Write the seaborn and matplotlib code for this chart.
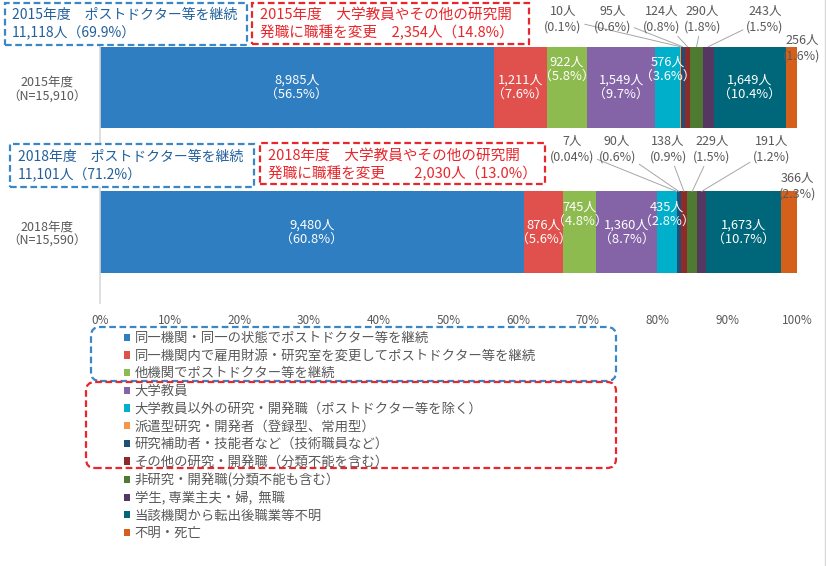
import numpy as np
import pandas as pd
import matplotlib
matplotlib.use("Agg")
import matplotlib.pyplot as plt
from matplotlib.patches import Rectangle, FancyBboxPatch, Patch
from matplotlib.lines import Line2D
import seaborn as sns

# ---------------- data ----------------
years = ["2015年度", "2018年度"]
totals = [15910, 15590]
categories = [
    "同一機関・同一の状態でポストドクター等を継続",
    "同一機関内で雇用財源・研究室を変更してポストドクター等を継続",
    "他機関でポストドクター等を継続",
    "大学教員",
    "大学教員以外の研究・開発職（ポストドクター等を除く）",
    "派遣型研究・開発者（登録型、常用型）",
    "研究補助者・技能者など（技術職員など）",
    "その他の研究・開発職（分類不能を含む）",
    "非研究・開発職(分類不能も含む）",
    "学生, 専業主夫・婦,  無職",
    "当該機関から転出後職業等不明",
    "不明・死亡",
]
counts_2015 = [8985, 1211, 922, 1549, 576, 10, 95, 124, 290, 243, 1649, 256]
counts_2018 = [9480, 876, 745, 1360, 435, 7, 90, 138, 229, 191, 1673, 366]
pct_2015 = ["56.5", "7.6", "5.8", "9.7", "3.6", "0.1", "0.6", "0.8", "1.8", "1.5", "10.4", "1.6"]
pct_2018 = ["60.8", "5.6", "4.8", "8.7", "2.8", "0.04", "0.6", "0.9", "1.5", "1.2", "10.7", "2.3"]
colors = ["#2E7EC1", "#E0504D", "#8DBB4F", "#8464A6", "#00AFC9", "#F79646",
          "#1F4E79", "#8E2A2A", "#4E7A32", "#543862", "#00677A", "#D4601C"]
xticks = [0, 10, 20, 30, 40, 50, 60, 70, 80, 90, 100]

# ---------------- style ----------------
sns.set_style("white")
plt.rcParams["font.family"] = ["Noto Sans CJK JP", "DejaVu Sans"]
GRAY = "#595959"
BLUE_T, BLUE_B = "#22609C", "#3A87C8"
RED_T, RED_B = "#E8262B", "#E8262B"

W, H = 826, 566
fig = plt.figure(figsize=(W / 100, H / 100), dpi=100)
ax_l, ax_r, ax_t, ax_b = 100, 797, 46, 303
ax = fig.add_axes([ax_l / W, 1 - ax_b / H, (ax_r - ax_l) / W, (ax_b - ax_t) / H])

ylabels = [f"{y}\n（N={n:,}）" for y, n in zip(years, totals)]
counts = np.array([counts_2015, counts_2018])
pcts = [pct_2015, pct_2018]
shares = counts / np.array(totals)[:, None] * 100
cum = np.cumsum(shares, axis=1)
starts = cum - shares
BAR_W = 0.564

for k in range(len(categories)):
    df = pd.DataFrame({"share": shares[:, k], "year": ylabels})
    sns.barplot(data=df, x="share", y="year", orient="h", order=ylabels,
                color=colors[k], saturation=1, width=BAR_W, linewidth=0,
                errorbar=None, left=starts[:, k], ax=ax)

ax.set_xlim(0, 100)
ax.set_ylim(1.489, -0.287)
ax.set_xticks(xticks)
ax.set_xticklabels([f"{t}%" for t in xticks])
ax.set_xlabel("")
ax.set_ylabel("")
ax.tick_params(axis="x", length=0, pad=8, labelsize=8.5, labelcolor=GRAY)
ax.tick_params(axis="y", length=0, pad=38, labelsize=9, labelcolor=GRAY)
for lab in ax.get_yticklabels():
    lab.set_horizontalalignment("center")
    lab.set_multialignment("center")
    lab.set_linespacing(1.12)
for s in ["top", "right", "bottom"]:
    ax.spines[s].set_visible(False)
ax.spines["left"].set_color("#D9D9D9")
ax.spines["left"].set_linewidth(1.2)

# labels inside bars
inside = [0, 1, 2, 3, 4, 10]
raised = {2, 4}
for i in range(2):
    for k in inside:
        xc = starts[i, k] + shares[i, k] / 2
        yc = i - (0.125 if k in raised else 0)
        ax.text(xc, yc, f"{counts[i, k]:,}人\n（{pcts[i][k]}%）", ha="center", va="center",
                color="white", fontsize=9.3, linespacing=1.12)

# call-out labels for small segments
small = [5, 6, 7, 8, 9]
callout_x = [[66.4, 73.5, 80.6, 86.4, 95.4], [67.7, 74.2, 81.5, 87.8, 96.4]]
callout_y = [-0.473, 0.425]
last_xy = [(100.7, -0.270), (100.1, 0.681)]
for i in range(2):
    for j, k in enumerate(small):
        xc = starts[i, k] + shares[i, k] / 2
        ax.annotate(f"{counts[i, k]:,}人\n({pcts[i][k]}%)", xy=(xc, i - BAR_W / 2),
                    xytext=(callout_x[i][j], callout_y[i]), ha="center", va="center",
                    color=GRAY, fontsize=9, linespacing=1.2, annotation_clip=False,
                    arrowprops=dict(arrowstyle="-", color="#A6A6A6", lw=0.7,
                                    shrinkA=0, shrinkB=0))
    k = 11
    ax.text(last_xy[i][0], last_xy[i][1], f"{counts[i, k]:,}人\n({pcts[i][k]}%)",
            ha="center", va="center", color=GRAY, fontsize=9, linespacing=1.2, clip_on=False)


def px_rect(x0, y0, x1, y1):
    return (x0 / 100, (H - y1) / 100), (x1 - x0) / 100, (y1 - y0) / 100


def ftext(x, y, s, **kw):
    fig.text(x / W, 1 - y / H, s, va="center", ha="left", **kw)


DASH = (0, (3, 1.6))
# summary boxes above the bars
cont = counts[:, :3].sum(axis=1)
chg = counts[:, 3:8].sum(axis=1)
boxes = [
    ((5, 3, 247, 45), (12, 15, 33), BLUE_B, BLUE_T, 10,
     f"{years[0]}　ポストドクター等を継続", f"{cont[0]:,}人（{cont[0] / totals[0] * 100:.1f}%）"),
    ((252, 3, 529, 44), (260, 15, 33), RED_B, RED_T, 10.5,
     f"{years[0]}　大学教員やその他の研究開", f"発職に職種を変更　{chg[0]:,}人（{chg[0] / totals[0] * 100:.1f}%）"),
    ((10, 144, 254, 187), (18, 157, 175), BLUE_B, BLUE_T, 10,
     f"{years[1]}　ポストドクター等を継続", f"{cont[1]:,}人（{cont[1] / totals[1] * 100:.1f}%）"),
    ((260, 143, 545, 184), (268, 156, 174), RED_B, RED_T, 10.5,
     f"{years[1]}　大学教員やその他の研究開", f"発職に職種を変更　　{chg[1]:,}人（{chg[1] / totals[1] * 100:.1f}%）"),
]
for rect, (tx, ty1, ty2), ec, tc, fs, l1, l2 in boxes:
    xy, w, h = px_rect(*rect)
    fig.add_artist(Rectangle(xy, w, h, transform=fig.dpi_scale_trans, fill=True, fc="white",
                             ec=ec, lw=1.6, ls=DASH))
    ftext(tx, ty1, l1, color=tc, fontsize=fs)
    ftext(tx, ty2, l2, color=tc, fontsize=fs)

# legend
handles = [Patch(facecolor=c, edgecolor="none") for c in colors]
fig.legend(handles, categories, loc="upper left", bbox_to_anchor=(124 / W, 1 - 331 / H),
           frameon=False, fontsize=9.6, labelcolor=GRAY, handlelength=0.45, handleheight=0.45,
           handletextpad=0.35, labelspacing=0.275, borderpad=0, borderaxespad=0)

for rect, ec in [((91, 327, 616, 381), BLUE_B), ((86, 382, 616, 468), RED_B)]:
    xy, w, h = px_rect(*rect)
    fig.add_artist(FancyBboxPatch(xy, w, h, boxstyle="round,pad=0,rounding_size=0.09",
                                  transform=fig.dpi_scale_trans, fill=False, ec=ec, lw=1.6, ls=DASH))

fig.add_artist(Line2D([824.5 / W] * 2, [0, 1], transform=fig.transFigure, color="#D9D9D9", lw=1))

fig.savefig("out.png", dpi=100)
